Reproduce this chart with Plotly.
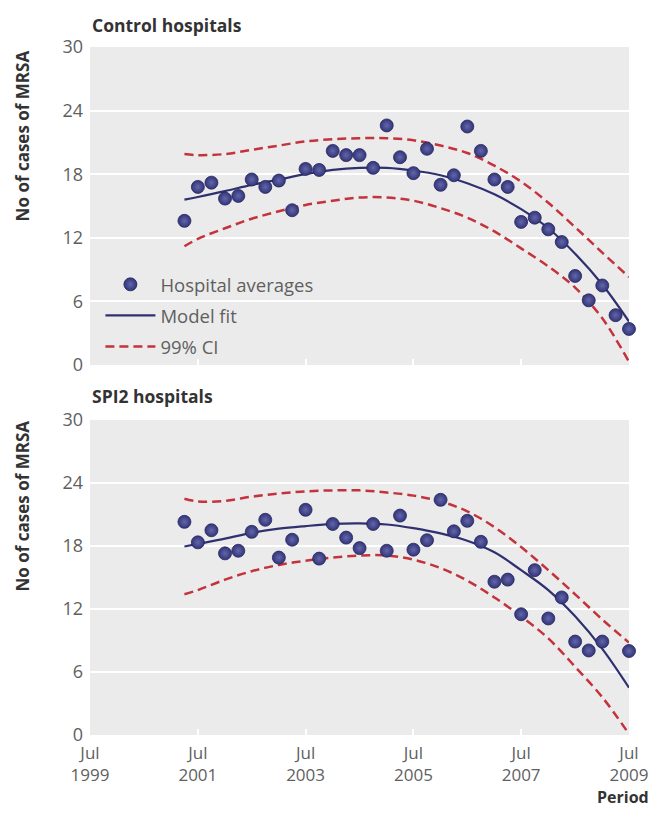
import pandas as pd
import plotly.graph_objects as go

# Quarterly observation dates (start of each quarter)
control_dates = [d.strftime("%Y-%m-%d") for d in pd.date_range("2001-04-01", "2009-07-01", freq="QS")]
spi2_dates = [d for d in control_dates if d != "2009-04-01"]

# Hospital averages: number of MRSA cases per quarter
control_cases = [13.6, 16.8, 17.2, 15.7, 15.95, 17.5, 16.8, 17.4, 14.6, 18.5,
                 18.4, 20.2, 19.8, 19.8, 18.6, 22.6, 19.6, 18.1, 20.4, 17.0,
                 17.9, 22.5, 20.2, 17.5, 16.8, 13.5, 13.9, 12.8, 11.6, 8.4,
                 6.1, 7.5, 4.7, 3.4]
spi2_cases = [20.3, 18.35, 19.5, 17.3, 17.55, 19.35, 20.5, 16.9, 18.6, 21.45,
              16.8, 20.1, 18.8, 17.8, 20.1, 17.55, 20.9, 17.65, 18.55, 22.4,
              19.4, 20.4, 18.4, 14.6, 14.8, 11.5, 15.7, 11.1, 13.1, 8.9,
              8.05, 8.9, 8.0]

# Model fit and 99% confidence limits, half-yearly
fit_dates = ["2001-04-01", "2001-07-01", "2002-01-01", "2002-07-01", "2003-01-01",
             "2003-07-01", "2004-01-01", "2004-07-01", "2005-01-01", "2005-07-01",
             "2006-01-01", "2006-07-01", "2007-01-01", "2007-07-01", "2008-01-01",
             "2008-07-01", "2009-01-01", "2009-07-01"]
control_fit = [15.6, 15.85, 16.4, 17.0, 17.5, 18.0, 18.4, 18.6, 18.6, 18.35,
               17.9, 17.15, 16.1, 14.7, 12.9, 10.5, 7.6, 4.1]
control_upper = [19.9, 19.8, 19.9, 20.3, 20.7, 21.1, 21.3, 21.4, 21.4, 21.2,
                 20.7, 20.0, 18.8, 17.3, 15.3, 13.0, 10.6, 8.3]
control_lower = [11.2, 11.9, 12.9, 13.8, 14.5, 15.1, 15.5, 15.8, 15.8, 15.5,
                 14.8, 13.9, 12.6, 11.0, 9.3, 7.3, 4.4, 0.3]
spi2_fit = [17.95, 18.2, 18.7, 19.25, 19.65, 19.9, 20.1, 20.15, 20.05, 19.7,
            19.2, 18.5, 17.4, 15.7, 13.8, 11.3, 8.2, 4.5]
spi2_upper = [22.5, 22.25, 22.3, 22.7, 23.0, 23.2, 23.3, 23.3, 23.1, 22.8,
              22.25, 21.3, 19.8, 17.9, 15.7, 13.4, 11.0, 8.8]
spi2_lower = [13.4, 13.8, 14.8, 15.6, 16.2, 16.6, 16.9, 17.1, 17.1, 16.7,
              15.9, 14.7, 13.1, 11.3, 9.2, 6.5, 3.6, 0.1]

# Axis ticks
x_tickvals = ["1999-07-01", "2001-07-01", "2003-07-01", "2005-07-01", "2007-07-01", "2009-07-01"]
x_ticktext = ["Jul<br>1999", "Jul<br>2001", "Jul<br>2003", "Jul<br>2005", "Jul<br>2007", "Jul<br>2009"]
y_tickvals = [0, 6, 12, 18, 24, 30]

FONT = "Open Sans"
NAVY = "#2f3070"
DOT = "#33357a"
DOT_CENTER = "#6466aa"
DOT_EDGE = "#25265c"
RED = "#c4323c"
TEXT = "#5f5f5f"
DARK = "#333333"

fig = go.Figure()

panels = [
    ("x", "y", control_dates, control_cases, control_fit, control_upper, control_lower, True),
    ("x2", "y2", spi2_dates, spi2_cases, spi2_fit, spi2_upper, spi2_lower, False),
]

for xa, ya, dates, cases, fit, upper, lower, show in panels:
    for i, band in enumerate((upper, lower)):
        fig.add_trace(go.Scatter(
            x=fit_dates, y=band, xaxis=xa, yaxis=ya, mode="lines",
            line=dict(color=RED, width=2.5, dash="9px,5px", shape="spline", smoothing=1.0),
            name="99% CI", legendgroup="ci", showlegend=show and i == 0, legendrank=3,
            cliponaxis=False, hoverinfo="skip",
        ))
    fig.add_trace(go.Scatter(
        x=fit_dates, y=fit, xaxis=xa, yaxis=ya, mode="lines",
        line=dict(color=NAVY, width=2.2, shape="spline", smoothing=1.0),
        name="Model fit", legendgroup="fit", showlegend=show, legendrank=2, cliponaxis=False,
    ))
    fig.add_trace(go.Scatter(
        x=dates, y=cases, xaxis=xa, yaxis=ya, mode="markers",
        marker=dict(size=13, color=DOT,
                    gradient=dict(type="radial", color=DOT_CENTER),
                    line=dict(color=DOT_EDGE, width=0.8)),
        name="Hospital averages", legendgroup="pts", showlegend=show, legendrank=1,
        cliponaxis=False,
    ))

xaxis_common = dict(
    type="date", range=["1999-07-01", "2009-07-01"],
    tickvals=x_tickvals, ticktext=x_ticktext,
    ticks="inside", ticklen=6, tickwidth=2, tickcolor="white",
    showgrid=False, zeroline=False, showline=False,
    tickfont=dict(family=FONT, size=17, color=TEXT),
)
yaxis_common = dict(
    range=[0, 30], tickvals=y_tickvals, ticks="", ticklabelstandoff=6,
    showgrid=True, gridcolor="white", gridwidth=2,
    zeroline=False, showline=False,
    tickfont=dict(family=FONT, size=18, color=TEXT),
)

top_dom = [0.5378, 1.0]
bot_dom = [0.0, 0.4578]

fig.update_layout(
    width=660, height=823,
    margin=dict(l=90, r=25, t=47, b=88),
    paper_bgcolor="white", plot_bgcolor="#ebebeb",
    xaxis=dict(xaxis_common, anchor="y", showticklabels=False),
    yaxis=dict(yaxis_common, domain=top_dom, anchor="x"),
    xaxis2=dict(xaxis_common, anchor="y2", ticklabelstandoff=6),
    yaxis2=dict(yaxis_common, domain=bot_dom, anchor="x2"),
    showlegend=True,
    legend=dict(
        x=0.0193, y=0.682, xanchor="left", yanchor="top",
        bgcolor="rgba(0,0,0,0)", borderwidth=0,
        font=dict(family=FONT, size=18.5, color=TEXT),
        itemwidth=50, traceorder="grouped", tracegroupgap=4,
    ),
    font=dict(family=FONT, color=TEXT),
)

# Panel titles, axis titles and period label
annotations = [
    dict(text="<b>Control hospitals</b>", x=0, y=1.0, xref="paper", yref="paper",
         xanchor="left", yanchor="bottom", yshift=8, showarrow=False,
         font=dict(family=FONT, size=17.5, color=DARK)),
    dict(text="<b>SPI2 hospitals</b>", x=0, y=bot_dom[1], xref="paper", yref="paper",
         xanchor="left", yanchor="bottom", yshift=10, showarrow=False,
         font=dict(family=FONT, size=17.5, color=DARK)),
    dict(text="<b>No of cases of MRSA</b>", x=-0.125, y=0.871,
         xref="paper", yref="paper", xanchor="center", yanchor="middle",
         textangle=-90, showarrow=False,
         font=dict(family=FONT, size=17, color=DARK)),
    dict(text="<b>No of cases of MRSA</b>", x=-0.125, y=0.333,
         xref="paper", yref="paper", xanchor="center", yanchor="middle",
         textangle=-90, showarrow=False,
         font=dict(family=FONT, size=17, color=DARK)),
    dict(text="<b>Period</b>", x=1.04, y=0, xref="paper", yref="paper",
         xanchor="right", yanchor="middle", yshift=-62, showarrow=False,
         font=dict(family=FONT, size=16, color=DARK)),
]
fig.update_layout(annotations=annotations)

fig.write_html("out.html")
